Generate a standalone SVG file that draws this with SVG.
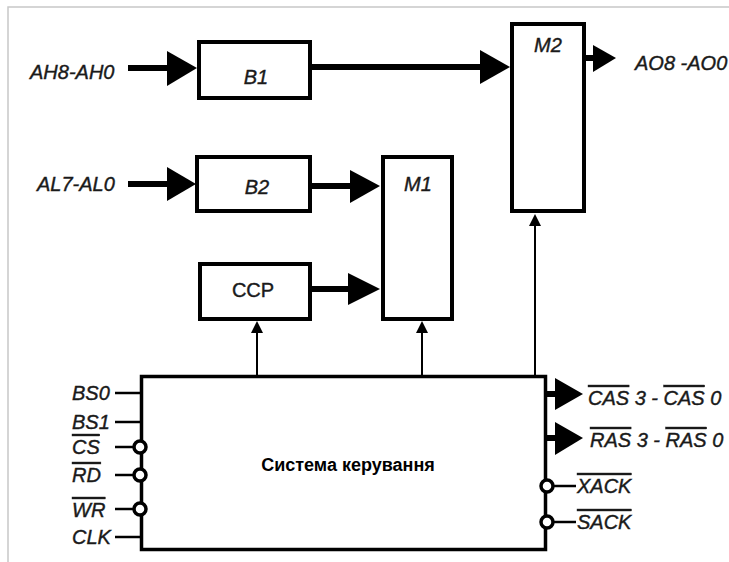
<svg xmlns="http://www.w3.org/2000/svg" width="729" height="562" viewBox="0 0 729 562">
<style>
.bg{fill:#ffffff}
.frame{stroke:#c8c8c8;stroke-width:1.5;fill:none}
.box{fill:#ffffff;stroke:#000;stroke-width:4}
.ctl{fill:#ffffff;stroke:#000;stroke-width:3.5}
.bus{stroke:#000;stroke-width:6;fill:none}
.head{fill:#000;stroke:none}
.thin{stroke:#000;stroke-width:2;fill:none}
.pin{stroke:#000;stroke-width:2.5;fill:none}
.bub{fill:#fff;stroke:#000;stroke-width:3.5}
.lbl{font-family:"Liberation Sans",Arial,sans-serif;font-size:20px;font-style:italic;fill:#1a1a1a;stroke:#1a1a1a;stroke-width:0.4}
.up{font-family:"Liberation Sans",Arial,sans-serif;font-size:20px;fill:#1a1a1a;stroke:#1a1a1a;stroke-width:0.4}
.title{font-family:"Liberation Sans",Arial,sans-serif;font-size:18px;font-weight:bold;fill:#000}
.ov{text-decoration:overline}
</style>
<rect class="bg" x="0" y="0" width="729" height="562"/>
<path class="frame" d="M8,562 V7 H729"/>

<g id="connectors">
  <line class="bus" x1="128" y1="68" x2="170" y2="68"/>
  <polygon class="head" points="167,51 197,68 167,86"/>
  <line class="bus" x1="312" y1="67" x2="482" y2="67"/>
  <polygon class="head" points="480,50 510,67 480,84"/>
  <line class="bus" x1="585" y1="58" x2="595" y2="58"/>
  <polygon class="head" points="593,45 616,58 593,72"/>
  <line class="bus" x1="128" y1="184" x2="170" y2="184"/>
  <polygon class="head" points="167,167 196,184 167,201"/>
  <line class="bus" x1="312" y1="186" x2="352" y2="186"/>
  <polygon class="head" points="350,170 380,186 350,203"/>
  <line class="bus" x1="312" y1="289" x2="350" y2="289"/>
  <polygon class="head" points="348,273 380,289 348,305"/>
  <line class="thin" x1="257" y1="376" x2="257" y2="330"/>
  <polygon class="head" points="251,333 257,321 263,333"/>
  <line class="thin" x1="422" y1="376" x2="422" y2="330"/>
  <polygon class="head" points="416,333 422,321 428,333"/>
  <line class="thin" x1="535" y1="376" x2="535" y2="222"/>
  <polygon class="head" points="529,226 535,214 541,226"/>
  <line class="bus" x1="547" y1="394" x2="557" y2="394"/>
  <polygon class="head" points="555,378 583,394 555,410"/>
  <line class="bus" x1="547" y1="438" x2="557" y2="438"/>
  <polygon class="head" points="555,422 583,438 555,455"/>
</g>

<g id="inputs">
  <text class="lbl" x="30" y="79">AH8-AH0</text>
  <text class="lbl" x="37" y="191">AL7-AL0</text>
  <text class="lbl" x="635" y="70">AO8 -AO0</text>
</g>

<g id="B1">
  <rect class="box" x="199" y="42" width="111" height="56"/>
  <text class="lbl" x="256" y="84" text-anchor="middle">B1</text>
</g>
<g id="B2">
  <rect class="box" x="197" y="157" width="113" height="54"/>
  <text class="lbl" x="257" y="194" text-anchor="middle">B2</text>
</g>
<g id="CCP">
  <rect class="box" x="200" y="264" width="110" height="55"/>
  <text class="up" x="253" y="297" text-anchor="middle">CCP</text>
</g>
<g id="M1">
  <rect class="box" x="383" y="157" width="69" height="162"/>
  <text class="lbl" x="418" y="191" text-anchor="middle">M1</text>
</g>
<g id="M2">
  <rect class="box" x="512" y="24" width="72" height="187"/>
  <text class="lbl" x="548" y="52" text-anchor="middle">M2</text>
</g>

<g id="control">
  <rect class="ctl" x="141.5" y="376.5" width="404" height="173"/>
  <text class="title" x="348" y="471" text-anchor="middle">Система керування</text>
  <line class="pin" x1="115" y1="393" x2="140" y2="393"/>
  <line class="pin" x1="115" y1="422" x2="140" y2="422"/>
  <line class="pin" x1="115" y1="447" x2="134" y2="447"/>
  <line class="pin" x1="115" y1="475" x2="134" y2="475"/>
  <line class="pin" x1="115" y1="509" x2="134" y2="509"/>
  <line class="pin" x1="115" y1="537" x2="140" y2="537"/>
  <circle class="bub" cx="140" cy="447" r="6"/>
  <circle class="bub" cx="140" cy="475" r="6"/>
  <circle class="bub" cx="140" cy="509" r="6"/>
  <line class="pin" x1="553" y1="486" x2="576" y2="486"/>
  <line class="pin" x1="553" y1="522" x2="576" y2="522"/>
  <circle class="bub" cx="547" cy="486" r="6"/>
  <circle class="bub" cx="547" cy="522" r="6"/>
  <text class="lbl" x="72" y="400">BS0</text>
  <text class="lbl" x="72" y="429">BS1</text>
  <text class="lbl" x="72" y="454"><tspan class="ov">CS</tspan></text>
  <text class="lbl" x="72" y="482"><tspan class="ov">RD</tspan></text>
  <text class="lbl" x="72" y="517"><tspan class="ov">WR</tspan></text>
  <text class="lbl" x="72" y="544">CLK</text>
  <text class="lbl" x="588" y="405"><tspan class="ov">CAS</tspan> 3 - <tspan class="ov">CAS</tspan> 0</text>
  <text class="lbl" x="590" y="447"><tspan class="ov">RAS</tspan> 3 - <tspan class="ov">RAS</tspan> 0</text>
  <text class="lbl" x="577" y="493"><tspan class="ov">XACK</tspan></text>
  <text class="lbl" x="577" y="529"><tspan class="ov">SACK</tspan></text>
</g>
</svg>
